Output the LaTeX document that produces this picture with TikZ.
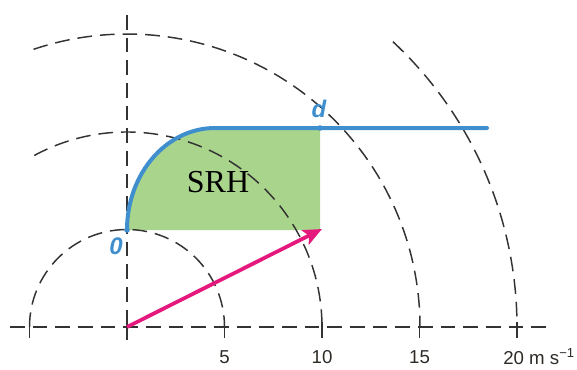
\documentclass[tikz,border=0pt]{standalone}
\usepackage{fontspec}
\setmainfont{Liberation Serif}
\newfontfamily\lblfont{Liberation Sans}
\usetikzlibrary{arrows.meta}
\definecolor{dashgray}{HTML}{333333}
\definecolor{bluecurve}{HTML}{3F8FCF}
\definecolor{greenfill}{HTML}{A9D48C}
\definecolor{pinkarrow}{HTML}{E5197D}
\definecolor{ticktext}{HTML}{2E2A26}
\tikzset{
  guide/.style={draw=dashgray, line width=1.1pt, dash pattern=on 11pt off 6pt},
  tickmark/.style={draw=dashgray, line width=1.1pt},
  ticklabel/.style={font=\lblfont\fontsize{14}{16}\selectfont, text=ticktext, inner sep=0pt},
  pointlabel/.style={font=\lblfont\bfseries\itshape\fontsize{18}{20}\selectfont, text=bluecurve, inner sep=0pt},
  hodo/.style={draw=bluecurve, line width=3pt, line cap=round},
  dotmark/.style={fill=bluecurve},
  shear/.style={draw=pinkarrow, line width=2.8pt, -{Stealth[length=14pt,width=12pt,inset=3pt]}},
}
\begin{document}
\begin{tikzpicture}[x=0.75pt,y=0.75pt]
\useasboundingbox (-127,-42) rectangle (450,327);
% named points
\coordinate (O) at (0,0);
\coordinate (P0) at (0,97);
\coordinate (Pd) at (193,199);
\coordinate (Pend) at (360,199);
\coordinate (C) at (193,97);
\coordinate (Tip) at (195,98);
% green area
\fill[greenfill] (P0) arc[start angle=180,end angle=90,x radius=88,y radius=102] -- (Pd) -- (C) -- cycle;
% guide circles and axes
\draw[guide] (-97.5,0) arc[start angle=180,end angle=0,radius=97.5];
\draw[guide] (118.4:195) arc[start angle=118.4,end angle=0,radius=195];
\draw[guide] (108.6:293) arc[start angle=108.6,end angle=0,radius=293];
\draw[guide] (47:390) arc[start angle=47,end angle=0,radius=390];
\draw[guide] (0,312) -- (0,-13);
\draw[guide] (-117,0) -- (426,0);
\foreach \xx in {-97.5,0,97.5,195,292.5,390}
  \draw[tickmark] (\xx,5) -- (\xx,-11);
% tick labels
\node[ticklabel] (l5) at (97.5,-30) {5};
\node[ticklabel] (l10) at (195,-30) {10};
\node[ticklabel] (l15) at (292.5,-30) {15};
\node[ticklabel, anchor=west] (l20) at (376,-30) {20 m s\textsuperscript{\char"2212 1}};
% hodograph
\draw[hodo] (P0) arc[start angle=180,end angle=90,x radius=88,y radius=102] -- (Pend);
\fill[dotmark] (P0) circle (2.8);
\fill[dotmark] (Pd) circle (2.8);
\node[pointlabel] (d) at (192,218) {d};
\node[pointlabel] (zero) at (-11,81) {0};
% shear vector
\draw[shear] (O) -- (Tip);
% label
\node[font=\fontsize{24}{26}\selectfont, inner sep=0pt] (srh) at (91,145) {SRH};
\end{tikzpicture}
\end{document}
